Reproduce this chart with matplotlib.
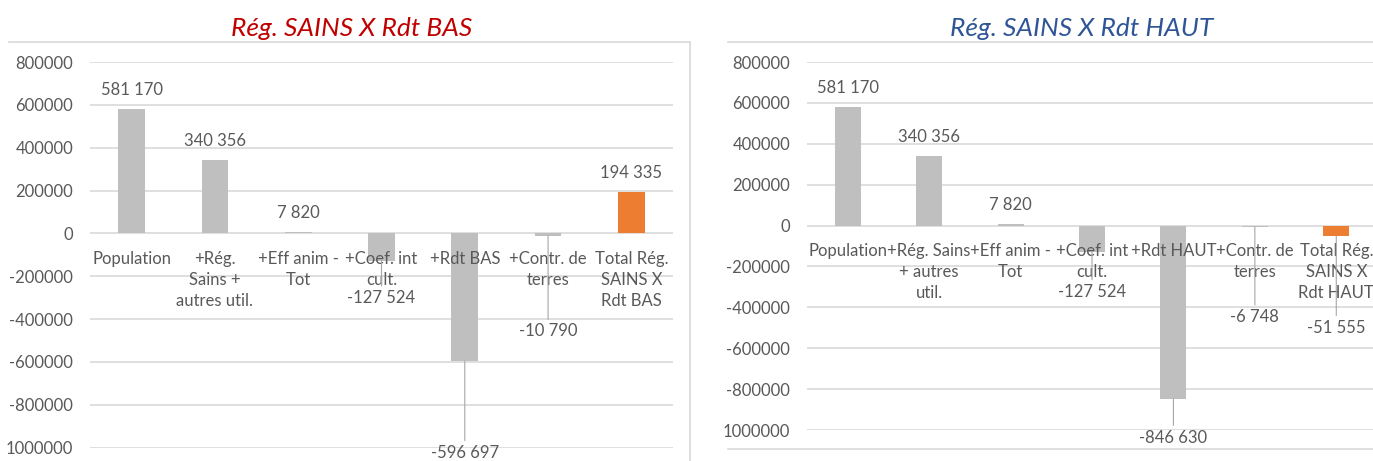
import numpy as np
import matplotlib
matplotlib.use("Agg")
import matplotlib.pyplot as plt
from matplotlib.lines import Line2D

plt.rcParams['font.family'] = ['Lato', 'DejaVu Sans']

# Data
cats_bas = ["Population", "+Rég.\nSains +\nautres util.", "+Eff anim -\nTot", "+Coef. int\ncult.",
            "+Rdt BAS", "+Contr. de\nterres", "Total Rég.\nSAINS X\nRdt BAS"]
vals_bas = [581170, 340356, 7820, -127524, -596697, -10790, 194335]

cats_haut = ["Population", "+Rég. Sains\n+ autres\nutil.", "+Eff anim -\nTot", "+Coef. int\ncult.",
             "+Rdt HAUT", "+Contr. de\nterres", "Total Rég.\nSAINS X\nRdt HAUT"]
vals_haut = [581170, 340356, 7820, -127524, -846630, -6748, -51555]

yticks = list(range(-1000000, 800001, 200000))
ytick_labels = [str(t) for t in yticks]
ytick_labels[0] = "1000000"  # the minus sign is cut off in the original

# label drop below negative bars (points)
drop_bas = [0, 0, 0, 27, 66, 69, 0]
drop_haut = [0, 0, 0, 29, 28, 65, 66]

GRAY = "#BFBFBF"
ORANGE = "#ED7D31"
TXT = "#595959"
GRID = "#D9D9D9"
W, H = 1373, 461


def fmt(v):
    return f"{v:,}".replace(",", " ")


def draw(ax, cats, vals, drops):
    x = np.arange(len(cats))
    colors = [GRAY] * (len(cats) - 1) + [ORANGE]
    ax.bar(x, vals, width=0.32, color=colors, zorder=3)
    ax.set_xlim(-0.5, len(cats) - 0.5)
    ax.set_ylim(-1000000, 800000)
    ax.set_yticks(yticks)
    ax.set_yticklabels(ytick_labels)
    ax.set_xticks([])
    ax.tick_params(axis='y', length=0, pad=12, labelsize=12, labelcolor=TXT)
    ax.yaxis.grid(True, color=GRID, lw=1.2, zorder=0)
    for s in ax.spines.values():
        s.set_visible(False)
    ax.set_facecolor('none')
    for i, c in enumerate(cats):
        ax.annotate(c, (i, 0), xytext=(0, -12.5), textcoords='offset points',
                    ha='center', va='top', fontsize=12, color=TXT, linespacing=1.4, zorder=4)
    for i, v in enumerate(vals):
        if v >= 0:
            ax.annotate(fmt(v), (i, v), xytext=(0, 8), textcoords='offset points',
                        ha='center', va='bottom', fontsize=12, color=TXT)
        else:
            ax.annotate(fmt(v), (i, v), xytext=(0, -drops[i]), textcoords='offset points',
                        ha='center', va='center', fontsize=12, color=TXT, zorder=5,
                        arrowprops=dict(arrowstyle='-', color="#A6A6A6", lw=0.8,
                                        shrinkA=1, shrinkB=0))


fig = plt.figure(figsize=(W / 100, H / 100), dpi=100)

ax1 = fig.add_axes([90 / W, (H - 447.5) / H, 583 / W, 385.5 / H])
draw(ax1, cats_bas, vals_bas, drop_bas)

ax2 = fig.add_axes([807 / W, (H - 430) / H, 570 / W, 368 / H])
draw(ax2, cats_haut, vals_haut, drop_haut)

fig.text(352 / W, 1 - 28 / H, "Rég. SAINS X Rdt BAS", ha='center', va='center',
         fontsize=19, style='italic', color="#C00000")
fig.text(1082 / W, 1 - 28 / H, "Rég. SAINS X Rdt HAUT", ha='center', va='center',
         fontsize=19, style='italic', color="#2F5597")

# chart frames
def fline(x0, y0, x1, y1):
    fig.add_artist(Line2D([x0 / W, x1 / W], [1 - y0 / H, 1 - y1 / H], color=GRID, lw=1.2))

fline(9, 42.5, 690, 42.5)
fline(690, 42.5, 690, 461)
fline(728, 42.5, 1373, 42.5)
fline(728, 449, 1373, 449)

fig.savefig("out.png", dpi=100)
